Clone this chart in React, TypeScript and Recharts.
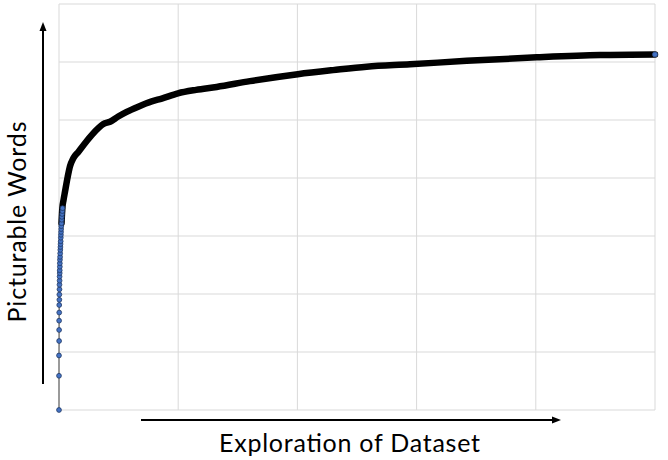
import React from "react";
import { LineChart, Line, XAxis, YAxis, CartesianGrid } from "recharts";

// early samples: sparse markers climbing the left edge
const sparseX = [0, 0, 0, 1, 1, 1, 2, 2, 3, 3, 4, 4, 5, 5, 6, 6, 7, 7, 8, 9, 10, 11, 12, 13, 14, 15, 16, 17, 18, 19, 21, 23, 24, 26, 28, 30];
const sparseY = [0, 59, 94, 119, 138, 154, 168, 181, 190, 199, 208, 216, 223, 230, 236, 241, 247, 253, 259, 264, 270, 276, 281, 286, 291, 297, 302, 307, 312, 317, 322, 328, 333, 338, 343, 348];

// later samples: markers packed so tightly they read as a thick black line
const denseX = [21, 28, 38, 50, 73, 92, 120, 162, 218, 274, 330, 372, 428, 497, 568, 665, 778, 862, 998, 1150, 1323, 1602, 2003, 2299, 2581, 2945, 3420, 4008, 4539, 5000];
const denseY = [322, 348, 362, 376, 402, 420, 434, 445, 460, 474, 486, 493, 497, 506, 514, 523, 532, 537, 546, 552, 557, 567, 579, 586, 592, 596, 602, 608, 612, 613];

const xTicks = [0, 1000, 2000, 3000, 4000, 5000];
const yTicks = [0, 100, 200, 300, 400, 500, 600, 700];

const sparse = sparseX.map((x, i) => ({ x, y: sparseY[i] }));
const dense = denseX.map((x, i) => ({ x, y: denseY[i] }));

const font = "Lato, 'Open Sans', sans-serif";

export default function App() {
  const last = dense.length - 1;
  return (
    <div style={{ position: "fixed", left: 0, top: 0, width: 668, height: 460, background: "#fff" }}>
      <LineChart width={668} height={460} margin={{ top: 4, right: 13, bottom: 50, left: 59 }}>
        <CartesianGrid stroke="#d9d9d9" strokeWidth={1} />
        <XAxis type="number" dataKey="x" domain={[0, 5000]} ticks={xTicks} hide />
        <YAxis type="number" dataKey="y" domain={[0, 700]} ticks={yTicks} hide />
        <Line
          data={dense}
          dataKey="y"
          type="monotone"
          stroke="#000"
          strokeWidth={6.5}
          strokeLinejoin="round"
          strokeLinecap="round"
          isAnimationActive={false}
          dot={(p: any) =>
            p.index === last ? (
              <circle key="end" cx={p.cx} cy={p.cy} r={2.5} fill="#4472C4" stroke="#2F528F" strokeWidth={0.8} />
            ) : (
              <g key={"d" + p.index} />
            )
          }
        />
        <Line
          data={sparse}
          dataKey="y"
          stroke="#7f7f7f"
          strokeWidth={1.5}
          isAnimationActive={false}
          dot={{ r: 2.4, fill: "#4472C4", stroke: "#1F3864", strokeWidth: 0.8 }}
        />
      </LineChart>
      <svg width={668} height={460} style={{ position: "absolute", left: 0, top: 0, pointerEvents: "none" }}>
        <line x1={43} y1={384} x2={43} y2={30} stroke="#000" strokeWidth={2} />
        <polygon points="43,22 39.5,31 46.5,31" fill="#000" />
        <line x1={141} y1={420} x2={553} y2={420} stroke="#000" strokeWidth={2} />
        <polygon points="561,420 552,416.5 552,423.5" fill="#000" />
        <text
          x={349.5}
          y={452}
          textAnchor="middle"
          fontFamily={font}
          fontSize={25}
          textLength={261}
          lengthAdjust="spacing"
          fill="#000"
        >
          Exploration of Dataset
        </text>
        <text
          x={26}
          y={222}
          textAnchor="middle"
          fontFamily={font}
          fontSize={25}
          textLength={201}
          lengthAdjust="spacing"
          fill="#000"
          transform="rotate(-90 26 222)"
        >
          Picturable Words
        </text>
      </svg>
    </div>
  );
}
